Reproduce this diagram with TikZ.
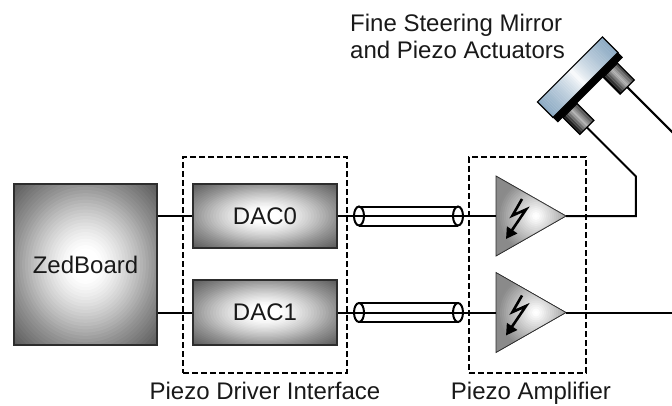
\documentclass[tikz,border=0pt]{standalone}
\usepackage{fontspec}
\setmainfont{Liberation Sans}
\usetikzlibrary{arrows.meta}

\definecolor{mirrorblue}{RGB}{140,170,195}
\definecolor{edgegray}{RGB}{45,45,45}
\definecolor{textgray}{RGB}{25,25,25}

\begin{document}
\begin{tikzpicture}[x=1pt,y=1pt,
  every node/.style={inner sep=0,text=textgray,font=\fontsize{24}{28}\selectfont},
  % grey box, white in the middle and darker towards the corners
  block/.style={draw=edgegray,line width=1.5,minimum width=144,minimum height=64,
    path picture={
      \pgfpointdiff{\pgfpointanchor{path picture bounding box}{center}}{\pgfpointanchor{path picture bounding box}{north east}}
      \pgfgetlastxy{\hw}{\hh}
      \foreach \k in {0,...,35} {
        \pgfmathsetmacro\r{1.45*(1-\k/36)}
        \pgfmathsetmacro\q{max(0.001,(\r-0.2)/0.8)}
        \pgfmathsetmacro\p{\r<=1 ? 42*\q^1.3 : 42+24*(\r-1)/0.45}
        \fill[black!\p] (path picture bounding box.center) ellipse ({\r*\hw} and {\r*\hh});
      }}},
  wire/.style={line width=2},
  group/.style={draw,line width=1.8,dash pattern=on 6 off 3,minimum height=216}]
\useasboundingbox (0,0) rectangle (672,405);

% ZedBoard and the two DACs
\node[block,minimum width=143,minimum height=161] (zed) at (85.5,140.5) {ZedBoard};
\node[block] (dac0) at (265,189) {DAC0};
\node[block,minimum height=65] (dac1) at (265,92.5) {DAC1};

\draw[wire] (zed.east |- dac0.west) -- (dac0.west);
\draw[wire] (zed.east |- dac1.west) -- (dac1.west);

% amplifiers
\foreach \y/\n in {189/0,92.5/1} {
  \coordinate (amp\n) at (496,\y);
  \coordinate (tip\n) at (566,\y);
  \draw[line width=0.8,draw=edgegray,
    path picture={
      \foreach \k in {0,...,29} {
        \pgfmathsetmacro\r{60*(1-\k/30)}
        \pgfmathsetmacro\p{min(46,36*max(0,\r-3)/28)}
        \fill[black!\p] (536,\y) circle (\r);
      }}]
    (496,\y+40) -- (566,\y) -- (496,\y-40) -- cycle;
  \draw[line width=2.6,-{Triangle[length=11,width=12]}]
    (522,\y+17) -- (512.5,\y+0.5) -- (526,\y+6.5) -- (506,\y-23);
}

% coax cables DAC -> amplifier
\foreach \y/\n in {189/0,92.5/1} {
  \draw[wire] (dac\n.east) -- (amp\n);
  \draw[wire] (359,\y+9.5) -- (458,\y+9.5) (359,\y-9.5) -- (458,\y-9.5);
  \draw[wire] (359,\y) ellipse (5 and 9.5) (458,\y) ellipse (5 and 9.5);
}

% mirror with its two piezo stacks
\begin{scope}[shift={(585.5,320)},rotate=45]
  \foreach \k in {0,...,45} {
    \pgfmathsetmacro\t{100*(abs(-45+2*\k)/46)^0.7}
    \fill[mirrorblue!\t!white] (-46+2*\k,0) rectangle (-43.8+2*\k,22);
  }
  \draw[line width=1.2] (-46,0) rectangle (46,22);
  \fill[black] (-46,-7) rectangle (46,0);
  \foreach \u in {-39,18} {
    \foreach \k in {0,...,19} {
      \pgfmathsetmacro\p{\k<11 ? 100-70*\k/11 : 30+45*(\k-11)/8}
      \fill[black!\p] (\u+\k,-31) rectangle (\u+\k+1.1,-7);
    }
    \draw[line width=1.2] (\u,-31) rectangle (\u+20,-7);
  }
  \coordinate (act0) at (-29,-31);
  \coordinate (act1) at (28,-31);
  \coordinate (bend0) at (-29,-100.4);
  \coordinate (out0) at (28,-115);
\end{scope}

\coordinate (out1) at (680,92.5);
\draw[wire] (tip0) -| (bend0) -- (act0);
\draw[wire] (act1) -- (out0);
\draw[wire] (tip1) -- (out1);

% dashed groups
\node[group,minimum width=164] (drv) at (265,140) {};
\node[group,minimum width=117] (ampgrp) at (527.5,140) {};

\node[anchor=base] (drvlabel) at (265,5.5) {Piezo Driver Interface};
\node[anchor=base] (amplabel) at (531,5.5) {Piezo Amplifier};
\node[anchor=base west] (fsm) at (350,373) {Fine Steering Mirror};
\node[anchor=base west] (fsmsub) at (350,346.5) {and Piezo Actuators};
\end{tikzpicture}
\end{document}
